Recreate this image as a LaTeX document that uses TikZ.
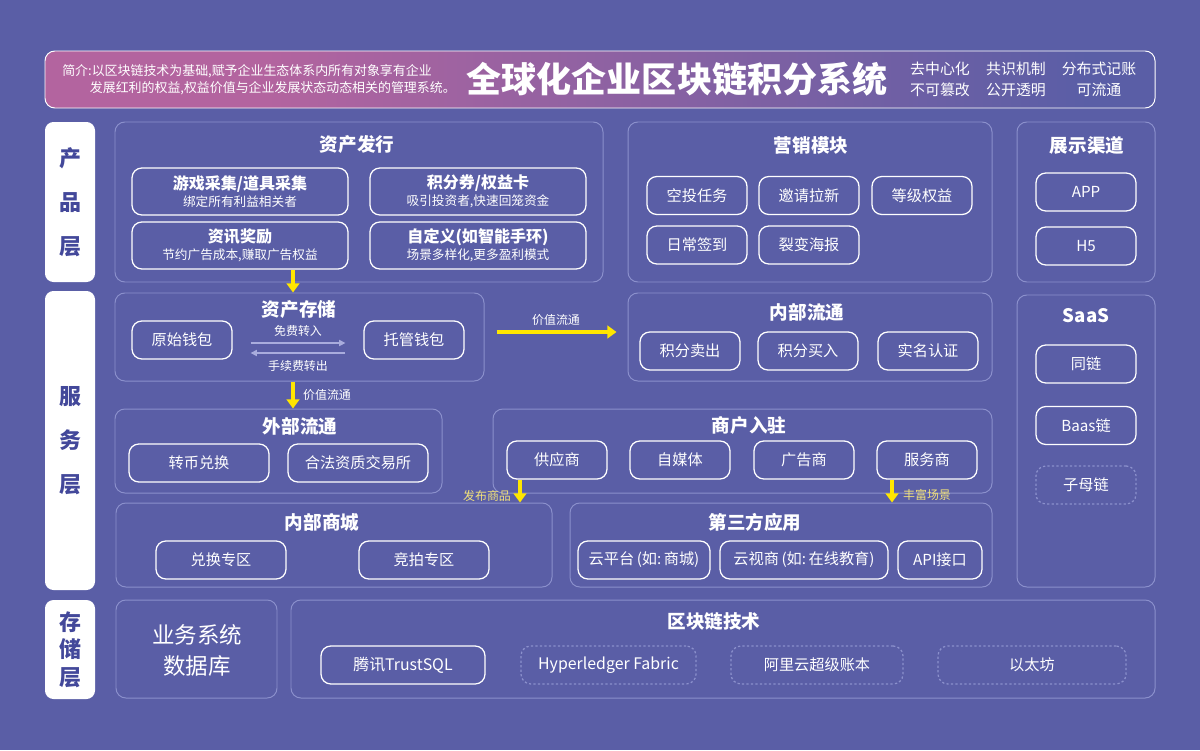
\documentclass[tikz,border=0pt]{standalone}
\usepackage{fontspec}
\setmainfont{Noto Sans CJK SC}
\usetikzlibrary{arrows.meta}
\definecolor{bgblue}{HTML}{5A5EA6}
\definecolor{lineblue}{HTML}{8B90CC}
\definecolor{layerblue}{HTML}{43489A}
\definecolor{headpink}{HTML}{B3649F}
\definecolor{flowyellow}{HTML}{FFE600}
\definecolor{thinarrow}{HTML}{A9ACDD}
\definecolor{labelyellow}{HTML}{F2E27A}
\pgfdeclarehorizontalshading{headfade}{100bp}{color(0bp)=(headpink); color(35bp)=(headpink); color(72bp)=(bgblue); color(100bp)=(bgblue)}
\tikzset{box/.style 2 args={minimum width=#1*0.025cm,minimum height=#2*0.025cm}}
\tikzstyle{panel}=[shape=rectangle,
                draw=lineblue,
                line width=0.7pt,
                rounded corners=7pt,
                inner sep=0pt]
\tikzstyle{item}=[shape=rectangle,
                draw=white,
                line width=0.9pt,
                rounded corners=7pt,
                text=white,
                inner sep=0pt,
                align=center,
                font=\fontsize{10.8}{13}\selectfont]
\tikzstyle{dashitem}=[item,
                draw=lineblue,
                dash pattern=on 1.6pt off 1.6pt,
                text=white]
\tikzstyle{layer}=[shape=rectangle,
                fill=white,
                rounded corners=6pt,
                text=layerblue,
                inner sep=0pt,
                align=center]
\tikzstyle{ptitle}=[text=white,inner sep=0pt,font=\fontsize{13.2}{15}\selectfont\bfseries]
\tikzstyle{note}=[text=white,inner sep=0pt,font=\fontsize{8.5}{10}\selectfont]
\tikzstyle{tag}=[text=white,inner sep=0pt,font=\fontsize{10.6}{12}\selectfont]
\tikzstyle{flow}=[->,flowyellow,line width=2.7pt]
\tikzstyle{thin}=[->,thinarrow,line width=0.8pt]

\begin{document}
\begin{tikzpicture}[x=0.025cm,y=-0.025cm,>={Triangle[length=6.5pt,width=9pt]}]

\fill[bgblue] (0,0) rectangle (1200,750);

% header
\node[panel,draw=white,shading=headfade,box={1110}{57}] (head) at (600,79.5) {};
\node[note,anchor=west,font=\fontsize{9.2}{11}\selectfont] (intro1) at (62,71) {简介:以区块链技术为基础,赋予企业生态体系内所有对象享有企业};
\node[note,anchor=east,font=\fontsize{9.2}{11}\selectfont] (intro2) at (456,88) {发展红利的权益,权益价值与企业发展状态动态相关的管理系统。};
\node[text=white,inner sep=0pt,font=\fontsize{24.9}{28}\selectfont\bfseries] (title) at (677,79) {全球化企业区块链积分系统};
\node[tag] (tag1) at (940,69) {去中心化};
\node[tag] (tag2) at (1016,69) {共识机制};
\node[tag] (tag3) at (1099,69) {分布式记账};
\node[tag] (tag4) at (940,90) {不可篡改};
\node[tag] (tag5) at (1016,90) {公开透明};
\node[tag] (tag6) at (1099,90) {可流通};

% layers
\node[layer,box={50}{160},font=\fontsize{15.6}{31.3}\selectfont\bfseries] (chanpin) at (70,202) {产\\品\\层};
\node[layer,box={50}{299},font=\fontsize{15.6}{31.3}\selectfont\bfseries] (fuwu) at (70,440.5) {服\\务\\层};
\node[layer,box={50}{99},font=\fontsize{15.6}{19.6}\selectfont\bfseries] (cunchu) at (70,649.5) {存\\储\\层};

% product layer
\node[panel,box={488}{160}] (faxing) at (359,202) {};
\node[ptitle] at (357,144) {资产发行};
\node[item,box={216}{47}] (youxi) at (240,191.5) {{\fontsize{11.4}{14}\selectfont\bfseries 游戏采集/道具采集}\\[-1pt]{\fontsize{9}{11}\selectfont 绑定所有利益相关者}};
\node[item,box={216}{47}] (jifen) at (478,191.5) {{\fontsize{11.4}{14}\selectfont\bfseries 积分券/权益卡}\\[-1pt]{\fontsize{9}{11}\selectfont 吸引投资者,快速回笼资金}};
\node[item,box={216}{47}] (zixun) at (240,245.5) {{\fontsize{11.4}{14}\selectfont\bfseries 资讯奖励}\\[-1pt]{\fontsize{9}{11}\selectfont 节约广告成本,赚取广告权益}};
\node[item,box={216}{47}] (ziding) at (478,245.5) {{\fontsize{11.4}{14}\selectfont\bfseries 自定义(如智能手环)}\\[-1pt]{\fontsize{9}{11}\selectfont 场景多样化,更多盈利模式}};

\node[panel,box={364}{160}] (yingxiao) at (810,202) {};
\node[ptitle] at (811,145) {营销模块};
\node[item,box={100}{38}] (kongtou) at (697,195.5) {空投任务};
\node[item,box={100}{38}] (yaoqing) at (809,195.5) {邀请拉新};
\node[item,box={100}{38}] (dengji) at (922,195.5) {等级权益};
\node[item,box={100}{38}] (richang) at (697,245) {日常签到};
\node[item,box={100}{38}] (liebian) at (809,245) {裂变海报};

\node[panel,box={138}{160}] (zhanshi) at (1086,202) {};
\node[ptitle] at (1087,145) {展示渠道};
\node[item,box={100}{38}] (app) at (1086,192) {APP};
\node[item,box={100}{38}] (hfive) at (1086,246) {H5};

% service layer
\node[panel,box={369}{88}] (cuncu) at (299.5,337) {};
\node[ptitle] at (299,310) {资产存储};
\node[item,box={100}{38}] (yuanshi) at (182,340) {原始钱包};
\node[item,box={100}{38}] (tuoguan) at (414,340) {托管钱包};
\coordinate (tz1) at (0,343);
\coordinate (tz2) at (0,353);
\draw[thin,>={Triangle[length=4.5pt,width=4.5pt]}] ([xshift=18*0.025cm]yuanshi.east |- tz1) -- ([xshift=-18*0.025cm]tuoguan.west |- tz1);
\draw[thin,>={Triangle[length=4.5pt,width=4.5pt]}] ([xshift=-18*0.025cm]tuoguan.west |- tz2) -- ([xshift=18*0.025cm]yuanshi.east |- tz2);
\node[note] (mianfei) at (298,331) {免费转入};
\node[note] (shouxu) at (298,366) {手续费转出};

\node[panel,box={364}{88}] (neibu) at (810,337) {};
\node[ptitle] at (807,312) {内部流通};
\node[item,box={100}{38}] (maichu) at (690,351) {积分卖出};
\node[item,box={100}{38}] (mairu) at (808,351) {积分买入};
\node[item,box={100}{38}] (shiming) at (928,351) {实名认证};

\node[panel,box={138}{292}] (saas) at (1086,441) {};
\node[ptitle] at (1086,316) {SaaS};
\node[item,box={100}{38}] (tonglian) at (1086,364) {同链};
\node[item,box={100}{38}] (baas) at (1086,425.5) {Baas链};
\node[dashitem,box={100}{38}] (zimu) at (1086,485) {子母链};

\node[panel,box={327}{84}] (waibu) at (278.5,451) {};
\node[ptitle] at (300,426) {外部流通};
\node[item,box={140}{38}] (zhuanbi) at (199,463) {转币兑换};
\node[item,box={140}{38}] (hefa) at (358,463) {合法资质交易所};

\node[panel,box={499}{84}] (shanghu) at (742.5,451) {};
\node[ptitle] at (749,425) {商户入驻};
\node[item,box={100}{38}] (gongying) at (557,460) {供应商};
\node[item,box={100}{38}] (zimeiti) at (680,460) {自媒体};
\node[item,box={100}{38}] (guanggao) at (804,460) {广告商};
\node[item,box={100}{38}] (fuwushang) at (927,460) {服务商};

\node[panel,box={436}{84}] (shangcheng) at (334,545) {};
\node[ptitle] at (322,522) {内部商城};
\node[item,box={130}{38}] (duihuan) at (221,560) {兑换专区};
\node[item,box={130}{38}] (jingpai) at (424,560) {竞拍专区};

\node[panel,box={422}{84}] (disanfang) at (781,545) {};
\node[ptitle] at (755,522) {第三方应用};
\node[item,box={132}{38}] (yunpingtai) at (644,560) {云平台\,(如:\,商城)};
\node[item,box={168}{38}] (yunshi) at (804,560) {云视商\,(如:\,在线教育)};
\node[item,box={84}{38}] (api) at (940,560) {API接口};

% storage layer
\node[panel,box={161}{98}] (yewu) at (196.5,649) {};
\node[text=white,inner sep=0pt,align=center,font=\fontsize{16}{22}\selectfont] (yewut) at (197,650) {业务系统\\数据库};
\node[panel,box={864}{98}] (qukuai) at (723,649) {};
\node[ptitle] at (714,621) {区块链技术};
\node[item,box={164}{38},font=\fontsize{11.3}{13}\selectfont] (tengxun) at (403,665) {腾讯TrustSQL};
\node[dashitem,box={175}{38},font=\fontsize{11.3}{13}\selectfont] (hyper) at (608.5,665) {Hyperledger Fabric};
\node[dashitem,box={172}{38}] (aliyun) at (817,665) {阿里云超级账本};
\node[dashitem,box={188}{38}] (yitaifang) at (1032,665) {以太坊};

% value flow arrows
\coordinate (fa) at (293,0);
\coordinate (fb) at (520,0);
\coordinate (fc) at (892,0);
\coordinate (fd) at (0,332);
\draw[flow] (fa |- zixun.south) -- (fa |- cuncu.north);
\draw[flow] (fa |- cuncu.south) -- (fa |- waibu.north);
\draw[flow] ([xshift=12*0.025cm]cuncu.east |- fd) -- ([xshift=-11*0.025cm]neibu.west |- fd);
\draw[flow] (fb |- gongying.south) -- (fb |- shangcheng.north);
\draw[flow] (fc |- fuwushang.south) -- (fc |- disanfang.north);
\node[note] (liu1) at (556,320) {价值流通};
\node[note] (liu2) at (327,395) {价值流通};
\node[note,text=labelyellow] (fabu) at (487,496) {发布商品};
\node[note,text=labelyellow] (fengfu) at (927,495) {丰富场景};

\end{tikzpicture}
\end{document}
